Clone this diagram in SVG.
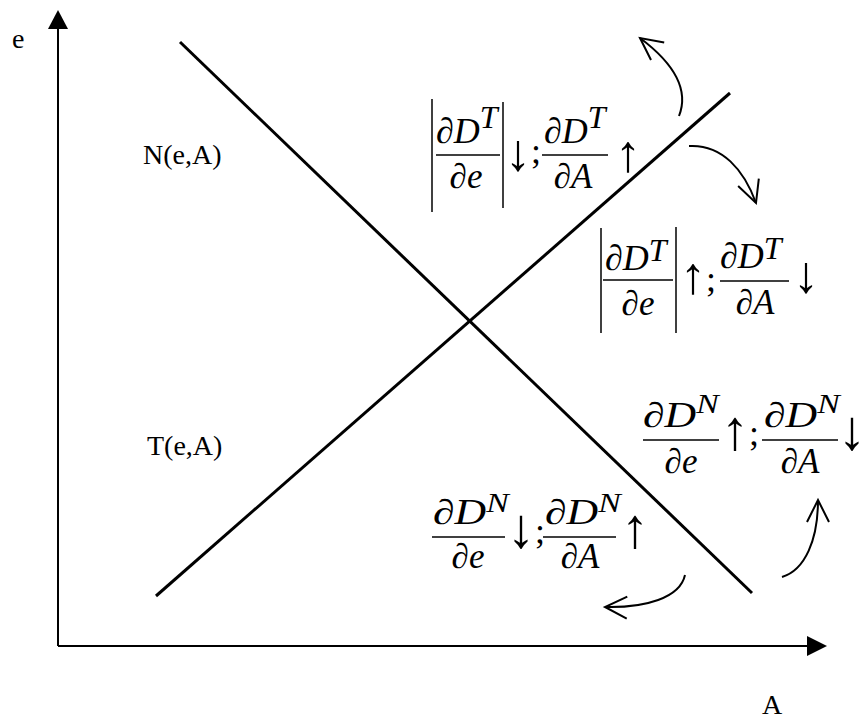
<svg xmlns="http://www.w3.org/2000/svg" width="866" height="720" viewBox="0 0 866 720">
<style>
.lbl{font-family:"Liberation Serif","Times New Roman",serif;font-size:28px;fill:#000}
.m{font-family:"Liberation Serif","Times New Roman",serif;font-size:36px;fill:#000}
.d{font-family:"Liberation Serif","Times New Roman",serif;font-size:35px;fill:#000}
.i{font-style:italic}
.sup{font-style:italic;font-size:32px}
.supn{font-style:italic;font-size:27px}
.ar{font-family:"Liberation Serif","Times New Roman",serif;font-size:52px;fill:#000}
.arn{font-family:"Liberation Serif","Times New Roman",serif;font-size:56px;fill:#000}
.semi{font-size:36px}
.bar{stroke:#000;stroke-width:1.5;fill:none}
.abs{stroke:#000;stroke-width:1.5;fill:none}
.axis{stroke:#000;stroke-width:2;fill:none}
.curve{stroke:#000;stroke-width:3;fill:none}
.bend{stroke:#000;stroke-width:2;fill:none;marker-end:url(#open)}
</style>
<defs>
<marker id="open" markerUnits="userSpaceOnUse" viewBox="-26 -14 30 28" refX="0" refY="0" markerWidth="30" markerHeight="28" orient="auto">
<path d="M-22,-11 L0,0 L-22,11" fill="none" stroke="#000" stroke-width="2"/>
</marker>
</defs>
<rect width="866" height="720" fill="#fff"/>
<g id="axes">
<line class="axis" x1="58" y1="646" x2="58" y2="28"/>
<polygon points="58,10 48,29 68,29" fill="#000"/>
<line class="axis" x1="58" y1="646" x2="808" y2="646"/>
<polygon points="827,646 807,636 807,656" fill="#000"/>
<text class="lbl" x="12" y="48">e</text>
<text class="lbl" x="762" y="714">A</text>
</g>
<g id="connectors">
<line id="N-line" class="curve" x1="180" y1="42" x2="752" y2="593"/>
<line id="T-line" class="curve" x1="156" y1="596" x2="730" y2="93"/>
<path class="bend" d="M679,116 C690,88 672,62 640,38"/>
<path class="bend" d="M689,146 C722,144 744,170 756,203"/>
<path class="bend" d="M685,575 C680,598 645,608 605,607"/>
<path class="bend" d="M782,577 C805,570 818,540 818,500"/>
</g>
<g id="N-label"><text class="lbl" x="143" y="164">N(e,A)</text></g>
<g id="T-label"><text class="lbl" x="147" y="455">T(e,A)</text></g>
<g id="expr-T-up">
<line class="abs" x1="432" y1="99" x2="432" y2="212"/>
<text class="m" x="436" y="143">∂<tspan class="i">D</tspan><tspan class="sup" dy="-15">T</tspan></text>
<line class="bar" x1="436" y1="155" x2="500" y2="155"/>
<text class="d" x="466" y="188" text-anchor="middle">∂<tspan class="i">e</tspan></text>
<line class="abs" x1="503" y1="102" x2="503" y2="208"/>
<text class="ar" x="505" y="170">↓<tspan class="semi" dy="-7">;</tspan></text>
<text class="m" x="544" y="143">∂<tspan class="i">D</tspan><tspan class="sup" dy="-15">T</tspan></text>
<line class="bar" x1="542" y1="155" x2="608" y2="155"/>
<text class="d" x="573" y="188" text-anchor="middle">∂<tspan class="i">A</tspan></text>
<text class="ar" x="628" y="171" text-anchor="middle">↑</text>
</g>
<g id="expr-T-down">
<line class="abs" x1="601" y1="228" x2="601" y2="333"/>
<text class="m" x="605" y="270">∂<tspan class="i">D</tspan><tspan class="sup" dy="-9">T</tspan></text>
<line class="bar" x1="603" y1="280" x2="673" y2="280"/>
<text class="d" x="638" y="315" text-anchor="middle">∂<tspan class="i">e</tspan></text>
<line class="abs" x1="676" y1="227" x2="676" y2="333"/>
<text class="ar" x="680" y="293">↑<tspan class="semi" dy="-2">;</tspan></text>
<text class="m" x="720" y="268">∂<tspan class="i">D</tspan><tspan class="sup" dy="-9">T</tspan></text>
<line class="bar" x1="720" y1="281" x2="789" y2="281"/>
<text class="d" x="755" y="314" text-anchor="middle">∂<tspan class="i">A</tspan></text>
<text class="ar" x="806" y="292" text-anchor="middle">↓</text>
</g>
<g id="expr-N-right">
<text class="d" transform="translate(643,427) scale(1.25,1)" x="0" y="0">∂<tspan class="i">D</tspan><tspan class="supn" dy="-14">N</tspan></text>
<line class="bar" x1="643" y1="440" x2="719" y2="440"/>
<text class="d" x="681" y="473" text-anchor="middle">∂<tspan class="i">e</tspan></text>
<text class="arn" x="721" y="449">↑<tspan class="semi" dy="-4">;</tspan></text>
<text class="d" transform="translate(764,427) scale(1.25,1)" x="0" y="0">∂<tspan class="i">D</tspan><tspan class="supn" dy="-14">N</tspan></text>
<line class="bar" x1="762" y1="440" x2="838" y2="440"/>
<text class="d" x="800" y="473" text-anchor="middle">∂<tspan class="i">A</tspan></text>
<text class="arn" x="852" y="449" text-anchor="middle">↓</text>
</g>
<g id="expr-N-left">
<text class="d" transform="translate(433,524) scale(1.25,1)" x="0" y="0">∂<tspan class="i">D</tspan><tspan class="supn" dy="-12">N</tspan></text>
<line class="bar" x1="432" y1="537" x2="505" y2="537"/>
<text class="d" x="468" y="568" text-anchor="middle">∂<tspan class="i">e</tspan></text>
<text class="arn" x="507" y="547">↓<tspan class="semi" dy="-4">;</tspan></text>
<text class="d" transform="translate(545,524) scale(1.25,1)" x="0" y="0">∂<tspan class="i">D</tspan><tspan class="supn" dy="-12">N</tspan></text>
<line class="bar" x1="543" y1="537" x2="616" y2="537"/>
<text class="d" x="580" y="568" text-anchor="middle">∂<tspan class="i">A</tspan></text>
<text class="arn" x="635" y="547" text-anchor="middle">↑</text>
</g>
</svg>
